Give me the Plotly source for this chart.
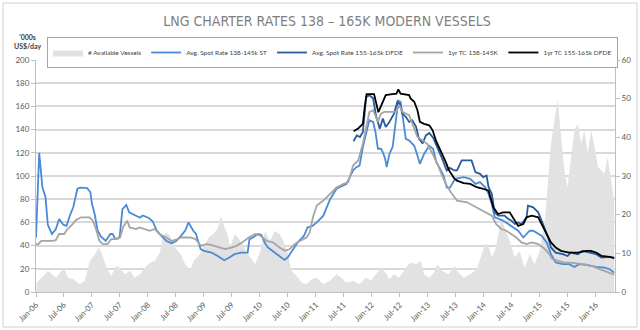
import plotly.graph_objects as go

# ---------------- data ----------------
vessels_dates = ["2006-01-04","2006-01-28","2006-02-28","2006-03-19","2006-04-13","2006-05-13","2006-06-16","2006-07-07","2006-07-28","2006-09-01","2006-10-13","2006-11-16","2006-12-19",
"2007-01-22","2007-02-13","2007-03-04","2007-04-07","2007-05-07","2007-06-10","2007-07-01","2007-08-04","2007-09-07","2007-10-07","2007-11-10","2007-12-13",
"2008-01-16","2008-02-15","2008-03-19","2008-04-10","2008-05-01","2008-05-25","2008-06-25","2008-08-01","2008-09-01","2008-10-04","2008-10-25","2008-11-28","2008-12-28",
"2009-02-01","2009-03-04","2009-04-04","2009-04-19","2009-05-07","2009-06-10","2009-06-19","2009-07-22","2009-09-04","2009-10-07","2009-11-10","2009-12-01",
"2010-01-04","2010-02-04","2010-03-07","2010-04-07","2010-05-10","2010-06-04","2010-07-04","2010-07-25","2010-08-28","2010-10-01","2010-11-01","2010-12-04",
"2011-01-07","2011-02-19","2011-04-04","2011-05-16","2011-06-16","2011-07-19","2011-09-01","2011-10-13","2011-11-25","2011-12-28",
"2012-01-28","2012-02-22","2012-03-22","2012-04-25","2012-05-25","2012-06-28","2012-08-10","2012-09-10","2012-10-16","2012-11-16","2012-12-07",
"2013-01-10","2013-02-10","2013-03-04","2013-04-04","2013-05-16","2013-06-28","2013-07-10","2013-08-22","2013-10-04","2013-11-16","2013-12-19",
"2014-01-10","2014-02-01","2014-02-22","2014-03-22","2014-04-25","2014-05-16","2014-06-19","2014-07-22","2014-08-22","2014-09-25","2014-10-28","2014-11-28",
"2015-01-01","2015-02-04","2015-02-25","2015-03-15","2015-04-07","2015-04-28","2015-05-19","2015-06-10","2015-07-01","2015-07-22","2015-08-15","2015-09-07","2015-09-28","2015-10-19","2015-11-10","2015-12-01","2015-12-25",
"2016-01-16","2016-02-07","2016-02-28","2016-03-19","2016-04-10","2016-05-01"]
vessels_vals = [2.4,3.3,4.6,5.5,4.6,3.7,5.5,5.9,3.7,3.3,2.0,2.9,8.0,
9.8,11.5,10.2,6.3,4.2,6.8,6.3,4.6,5.5,3.7,4.6,6.3,
7.6,8.0,10.2,14.5,15.4,14.5,11.5,9.8,7.2,5.5,8.0,9.4,11.5,
14.1,15.0,16.7,19.7,17.6,14.1,11.5,15.0,12.8,10.2,8.5,7.2,
10.6,15.8,13.2,15.8,15.0,13.2,9.8,5.5,4.2,2.4,2.0,3.3,
3.7,2.0,2.9,4.6,3.7,2.4,2.9,2.0,3.7,2.9,
4.6,5.9,5.5,3.3,4.6,3.7,6.3,7.6,7.2,8.0,4.6,
3.7,5.0,7.2,5.5,4.6,6.8,5.5,3.7,4.6,5.9,9.8,
12.4,12.0,8.9,11.5,19.3,16.7,13.2,8.9,10.6,6.3,9.8,7.2,
10.6,18.4,28.0,38.4,44.4,49.6,41.0,31.4,27.1,34.0,41.8,43.5,38.4,41.8,35.8,41.8,37.5,
32.3,31.4,30.6,34.9,28.8,23.6]

spot_st_dates = ["2006-01-01","2006-01-22","2006-02-12","2006-03-04","2006-03-19","2006-04-15","2006-05-10","2006-06-01","2006-06-28","2006-07-19","2006-08-13","2006-09-01","2006-09-28","2006-10-19","2006-12-01","2006-12-22",
"2007-01-01","2007-01-19","2007-02-07","2007-02-28","2007-04-01","2007-05-01","2007-05-16","2007-06-01","2007-06-19","2007-07-01","2007-07-19","2007-08-13","2007-09-01","2007-09-28","2007-11-10","2007-11-28",
"2008-01-04","2008-02-01","2008-02-28","2008-04-01","2008-05-01","2008-06-04","2008-07-04","2008-08-01","2008-09-01","2008-09-22","2008-10-22","2008-11-10","2008-12-10",
"2009-01-01","2009-02-19","2009-04-01","2009-05-13","2009-06-16","2009-07-19","2009-09-01","2009-10-13","2009-10-25","2009-11-16","2009-12-19",
"2010-01-10","2010-02-01","2010-02-22","2010-04-07","2010-05-19","2010-06-10","2010-07-01","2010-07-22","2010-09-04","2010-10-16","2010-11-07","2010-12-10",
"2011-01-07","2011-02-19","2011-04-04","2011-05-16","2011-06-28","2011-07-19","2011-09-01","2011-09-22","2011-10-13","2011-11-04","2011-11-25","2011-12-16",
"2012-01-10","2012-01-25","2012-02-10","2012-03-01","2012-03-13","2012-03-28","2012-04-07","2012-04-25","2012-05-16","2012-06-10","2012-06-22","2012-07-07","2012-07-22","2012-08-10","2012-09-01","2012-10-04","2012-10-25","2012-11-10","2012-12-07",
"2013-01-10","2013-02-04","2013-02-25","2013-03-22","2013-04-13","2013-05-04","2013-05-25","2013-06-28","2013-08-22","2013-10-04","2013-11-07","2013-12-07",
"2014-01-10","2014-02-01","2014-02-22","2014-03-13","2014-04-04","2014-05-07","2014-06-10","2014-07-13","2014-08-13","2014-09-16","2014-10-07","2014-10-28","2014-11-19","2014-12-22",
"2015-01-13","2015-02-15","2015-03-15","2015-04-15","2015-06-01","2015-07-13","2015-08-15","2015-09-15","2015-11-01",
"2016-01-04","2016-02-28","2016-04-01","2016-05-01"]
spot_st_vals = [47,120,90,82,58,50,54,63,58,57,67,73,89,90,89.5,86,
76,67,53,48,44,50,50,46,46,48,71.5,75,68.7,66.7,64,66,
64,61,53,48,44,42,44,48,53,60,53,50,37,
35.5,34,31,27.4,29.7,32.6,34,34,45.6,47,50,
49.4,42.7,38.4,34,29.7,27.7,29.7,34,42.7,48.5,55.7,57,
60,65.8,80,89,92,93,104.8,107.6,109,125,136.5,148,
146.6,138,123.5,123.5,120.6,115,107.6,119,125,149.5,165,164,149.5,132,130.7,126,117.7,110.5,119,
126,123.5,112,106,100.4,90,90,97.5,99,97.5,93.2,94.7,
90.3,84.6,75.9,64.4,63,61.5,58.6,55.7,52.8,47,50,52.8,52.8,50,
48.5,42.7,32.6,25.4,24,24,21.6,24,23.4,
21.6,21,19.6,16.7]

spot_dfde_dates = ["2011-09-04","2011-09-25","2011-10-16","2011-11-04","2011-11-25","2011-12-16",
"2012-01-10","2012-01-28","2012-02-22","2012-03-13","2012-04-01","2012-04-25","2012-05-25","2012-06-16","2012-07-01","2012-07-19","2012-08-10","2012-09-01","2012-09-22","2012-10-16","2012-11-04","2012-11-28","2012-12-19",
"2013-01-10","2013-02-04","2013-03-04","2013-04-04","2013-05-04","2013-05-25","2013-06-22","2013-07-10","2013-08-10","2013-10-13","2013-11-07","2013-12-07","2013-12-28",
"2014-01-19","2014-02-01","2014-02-22","2014-03-13","2014-04-04","2014-05-16","2014-06-10","2014-07-01","2014-07-22","2014-08-13","2014-09-04","2014-10-07","2014-10-16","2014-11-19","2014-12-22",
"2015-01-13","2015-02-04","2015-02-25","2015-03-15","2015-04-15","2015-06-01","2015-07-01","2015-07-22","2015-09-07","2015-10-07","2015-11-19",
"2016-01-04","2016-02-07","2016-04-01","2016-05-01"]
spot_dfde_vals = [130,135,133.6,138,168,169.7,
166.8,152.4,140.8,149.5,142.3,146.6,153.8,164,162.5,153.8,151,146.6,148,142.3,132,128,135,
137,133,125,115,104.8,107,104.8,104.8,113.4,113.4,103.3,101.9,99,
100.4,90.3,84.6,68.7,65.8,65.8,63,61.5,58.6,60,58.6,64.4,74.5,73,68.7,
61.5,54.3,47,38.4,34,32.6,31,34,32.6,35.5,34,
32.6,29.7,30.3,29.7]

tc_st_dates = ["2006-01-01","2006-01-15","2006-02-04","2006-04-19","2006-05-10","2006-06-01","2006-07-04","2006-07-25","2006-08-28","2006-09-19","2006-10-22","2006-12-16",
"2007-01-07","2007-01-28","2007-02-19","2007-03-13","2007-04-13","2007-05-07","2007-06-07","2007-07-04","2007-07-22","2007-08-19","2007-09-04","2007-10-16","2007-11-07","2007-12-10",
"2008-01-13","2008-02-15","2008-03-15","2008-05-01","2008-06-04","2008-07-15","2008-08-01","2008-10-04","2008-11-07","2008-12-10",
"2009-01-22","2009-03-04","2009-04-19","2009-05-19","2009-07-04","2009-08-04","2009-09-07","2009-10-19","2009-12-01",
"2010-01-04","2010-02-15","2010-03-28","2010-05-10","2010-06-13","2010-07-15","2010-08-15","2010-09-19","2010-11-01","2010-11-22","2010-12-13",
"2011-01-07","2011-02-19","2011-04-04","2011-05-16","2011-06-28","2011-08-01","2011-09-01","2011-10-04","2011-11-04","2011-11-25","2011-12-16",
"2012-01-10","2012-02-10","2012-03-01","2012-03-22","2012-06-07","2012-06-28","2012-07-19","2012-09-01","2012-10-04","2012-10-25","2012-11-28","2012-12-28",
"2013-02-01","2013-03-04","2013-04-04","2013-05-04","2013-06-07","2013-07-10","2013-09-13","2013-10-25","2013-12-07",
"2014-01-19","2014-02-22","2014-03-22","2014-04-25","2014-05-28","2014-06-28","2014-08-01","2014-09-04","2014-10-07","2014-11-10","2014-12-22",
"2015-01-22","2015-02-25","2015-03-25","2015-04-28","2015-06-10","2015-07-22","2015-09-07","2015-11-01","2015-12-13",
"2016-01-25","2016-03-10","2016-05-01"]
tc_st_vals = [41.3,41,44,44,44.7,50,50,54,58.6,62,64.4,64.4,
61.5,54,44,41.3,41.3,45.6,45.6,47,55.7,61.5,55.7,54.3,55.7,54.3,
52.8,54.3,50,47,44,45.6,47,47,45.6,40,
41.3,40,38.4,37,38.4,40,42.7,47,50,
48.5,44,42.7,38.4,35.5,37,41.3,44,47,51.4,64.4,
74.5,78.8,84.6,90,93,94.7,109,113.4,127.8,140.8,155,
156.7,146.6,153.8,155.3,155.3,161,155.3,152.4,140.8,133.6,130.7,127.8,
119,110.5,100.4,91.8,84.6,78.8,77.3,74.5,71.6,
68.7,65.8,58.6,54.3,52.8,50,47,42.7,41.3,42.7,41.3,
38.4,34,28.3,26.8,25.4,25.4,24.5,23.5,22,
19.5,17.5,15]

tc_dfde_dates = ["2011-09-04","2011-10-04","2011-10-25","2011-11-04","2011-11-16","2011-11-28",
"2012-01-16","2012-01-28","2012-02-13","2012-02-28","2012-04-01","2012-05-13","2012-06-10","2012-06-22","2012-07-07","2012-09-01","2012-09-10","2012-10-04","2012-10-25","2012-11-10","2012-12-07",
"2013-01-10","2013-02-01","2013-02-22","2013-03-25","2013-04-28","2013-05-19","2013-06-22","2013-07-10","2013-08-22","2013-10-04","2013-11-16","2013-12-28",
"2014-02-01","2014-02-13","2014-03-04","2014-04-04","2014-05-07","2014-06-19","2014-07-22","2014-08-13","2014-09-16","2014-10-07","2014-11-10","2014-12-22",
"2015-01-13","2015-02-15","2015-03-15","2015-04-15","2015-05-19","2015-07-13","2015-09-07","2015-11-01","2015-12-01",
"2016-01-04","2016-02-07","2016-04-01","2016-05-01"]
tc_dfde_vals = [138.5,141,143.7,145,159.6,170.5,
170.5,162.5,155,159.6,169.7,170.5,171,174.6,171,169.7,166.8,164,156.7,146.6,145,
143.7,139.4,130.7,122,112,104.8,98,96,93.8,93.2,90.3,89,
87.4,81.7,73,67.2,68.7,68.7,61.5,57,58.6,64.4,65.8,64.4,
58.6,50,42.7,38.4,35.5,34,34,35.5,35.5,
34,31.2,30.3,29.1]

tick_text_fmt = "%b-%y"

# ---------------- figure ----------------
fig = go.Figure()

# area on the base (right-hand) axis so that the rate lines are drawn above it
fig.add_trace(go.Scatter(
    x=vessels_dates, y=vessels_vals, name="# Available Vessels", yaxis="y",
    mode="lines", line=dict(width=0, color="#e2e2e2"), fill="tozeroy",
    fillcolor="#e2e2e2"))
fig.add_trace(go.Scatter(
    x=spot_st_dates, y=spot_st_vals, name="Avg. Spot Rate 138-145k ST", yaxis="y2",
    mode="lines", line=dict(color="#4a8ad6", width=1.8)))
fig.add_trace(go.Scatter(
    x=spot_dfde_dates, y=spot_dfde_vals, name="Avg. Spot Rate 155-165k DFDE", yaxis="y2",
    mode="lines", line=dict(color="#2a5a9e", width=1.8)))
fig.add_trace(go.Scatter(
    x=tc_st_dates, y=tc_st_vals, name="1yr TC 138-145K", yaxis="y2",
    mode="lines", line=dict(color="#a5a5a5", width=1.8)))
fig.add_trace(go.Scatter(
    x=tc_dfde_dates, y=tc_dfde_vals, name="1yr TC 155-165k DFDE", yaxis="y2",
    mode="lines", line=dict(color="#000000", width=1.8)))

tickfont = dict(family="Lato, Liberation Sans, sans-serif", size=8, color="#595959")

fig.update_layout(
    width=640, height=330, autosize=False,
    margin=dict(l=36, r=25, t=60, b=38, autoexpand=False),
    paper_bgcolor="white", plot_bgcolor="white",
    title=dict(text="LNG CHARTER RATES 138 \u2013 165K MODERN VESSELS",
               x=327/640, xanchor="center", xref="container",
               y=1 - 21/330, yanchor="middle", yref="container",
               font=dict(family="DejaVu Sans Condensed, Liberation Sans Narrow, Liberation Sans, sans-serif",
                         size=14, color="#7f7f7f")),
    showlegend=True,
    legend=dict(orientation="h", xref="container", x=47/640, xanchor="left",
                yref="container", y=1 - 37/330, yanchor="top",
                bordercolor="#a6a6a6", borderwidth=1, bgcolor="white",
                font=dict(family="Lato, Liberation Sans, sans-serif", size=6.5, color="#404040"),
                itemwidth=30, tracegroupgap=0),
    xaxis=dict(type="date", range=["2006-01-01", "2016-05-06"],
               tick0="2006-01-01", dtick="M6", tickformat=tick_text_fmt,
               tickangle=-45, tickfont=tickfont, showgrid=False, automargin=False,
               showline=True, linecolor="#bfbfbf", linewidth=1,
               ticks="outside", ticklen=4, tickcolor="#bfbfbf", zeroline=False),
    yaxis=dict(range=[0, 60], dtick=10, side="right", automargin=False,
               tickfont=tickfont, showgrid=False,
               showline=True, linecolor="#bfbfbf", linewidth=1,
               ticks="outside", ticklen=4, tickcolor="#bfbfbf", zeroline=False),
    yaxis2=dict(range=[0, 200], dtick=20, overlaying="y", side="left", tickfont=tickfont,
                showgrid=True, gridcolor="#d9d9d9", gridwidth=1.5, automargin=False,
                showline=True, linecolor="#bfbfbf", linewidth=1,
                ticks="outside", ticklen=4, tickcolor="#bfbfbf", zeroline=False),
)

# plot area spans x 36..615 px and y 60..292 px
fig.add_annotation(text="<b>'000s<br>US$/day</b>", xref="paper", yref="paper",
                   x=(27-36)/579, y=(292-41)/232, xanchor="center", yanchor="middle",
                   showarrow=False, align="center",
                   font=dict(family="Lato, Liberation Sans, sans-serif", size=7, color="#404040"))

# outer chart frame
fig.add_shape(type="rect", xref="paper", yref="paper",
              x0=(3-36)/579, x1=(637-36)/579, y0=(292-327)/232, y1=(292-3)/232,
              line=dict(color="#d0d0d0", width=1), fillcolor="rgba(0,0,0,0)", layer="below")

fig.write_html("out.html")
